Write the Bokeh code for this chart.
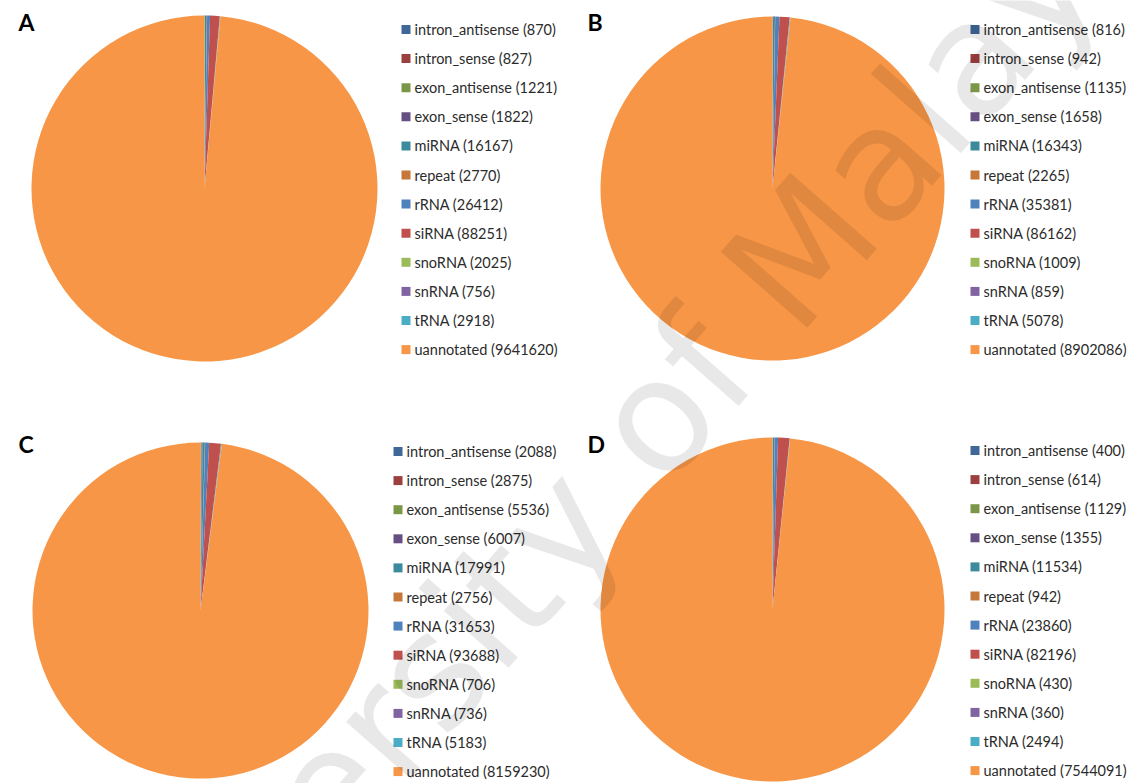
import numpy as np
from bokeh.plotting import figure
from bokeh.models import ColumnDataSource, Range1d
from bokeh.core.properties import value
from bokeh.embed import file_html
from bokeh.resources import INLINE

# Small RNA read counts per annotation class, four libraries
categories = ["intron_antisense", "intron_sense", "exon_antisense", "exon_sense",
              "miRNA", "repeat", "rRNA", "siRNA", "snoRNA", "snRNA", "tRNA", "uannotated"]

counts_A = [870, 827, 1221, 1822, 16167, 2770, 26412, 88251, 2025, 756, 2918, 9641620]
counts_B = [816, 942, 1135, 1658, 16343, 2265, 35381, 86162, 1009, 859, 5078, 8902086]
counts_C = [2088, 2875, 5536, 6007, 17991, 2756, 31653, 93688, 706, 736, 5183, 8159230]
counts_D = [400, 614, 1129, 1355, 11534, 942, 23860, 82196, 430, 360, 2494, 7544091]

panel_labels = ["A", "B", "C", "D"]
watermark = "University of Malaya"

slice_colors = ["#3f6797", "#9b403e", "#7c9647", "#665083", "#3c8a9e", "#c6783a",
                "#4f81bd", "#c0504d", "#9bbb59", "#8064a2", "#4bacc6", "#f79646"]

W, H = 1131, 783

# page layout in pixels from the top-left corner
layout = [
    dict(cx=204, cy=188, r=173, lx=401, ly=29, tx=18, ty=21),
    dict(cx=772, cy=188, r=172, lx=970, ly=29, tx=587, ty=21),
    dict(cx=200, cy=610, r=168, lx=393, ly=451, tx=18, ty=443),
    dict(cx=772, cy=609, r=172, lx=970, ly=450, tx=587, ty=443),
]
ROW_STEP = 29.1
SWATCH = 9

p = figure(width=W, height=H, x_range=Range1d(0, W), y_range=Range1d(0, H),
           output_backend="svg", toolbar_location=None, min_border=0,
           x_axis_type=None, y_axis_type=None)
p.grid.visible = False
p.outline_line_color = None
p.background_fill_color = "white"
p.border_fill_color = "white"

label_font = value("Lato")

for counts, label, lay in zip([counts_A, counts_B, counts_C, counts_D], panel_labels, layout):
    vals = np.array(counts, dtype=float)
    frac = vals / vals.sum()
    cum_end = np.cumsum(frac)
    cum_start = cum_end - frac
    # slices start at 12 o'clock and run clockwise
    start = np.pi / 2 - 2 * np.pi * cum_start
    end = np.pi / 2 - 2 * np.pi * cum_end
    src = ColumnDataSource(dict(start=start, end=end, color=slice_colors))
    p.wedge(x=lay["cx"], y=H - lay["cy"], radius=lay["r"], start_angle="start",
            end_angle="end", direction="clock", fill_color="color",
            line_color=None, source=src)

    # legend: swatch + "name (count)"
    n = len(categories)
    rows_y = [H - (lay["ly"] + i * ROW_STEP) for i in range(n)]
    texts = [f"{c} ({v})" for c, v in zip(categories, counts)]
    leg = ColumnDataSource(dict(
        sx=[lay["lx"] + SWATCH / 2] * n,
        tx=[lay["lx"] + SWATCH + 4] * n,
        y=rows_y, text=texts, color=slice_colors))
    p.rect(x="sx", y="y", width=SWATCH, height=SWATCH, fill_color="color",
           line_color=None, source=leg)
    p.text(x="tx", y="y", text="text", source=leg, text_font=label_font,
           text_font_size="14.5px", text_color="#2b2b2b",
           text_baseline="middle", text_align="left")

    p.text(x=[lay["tx"]], y=[H - lay["ty"]], text=[label], text_font=label_font,
           text_font_size="23px", text_font_style="bold", text_color="black",
           text_baseline="middle", text_align="left")

# faint diagonal watermark across the page
p.text(x=[595], y=[H - 485], text=[watermark], angle=0.85,
       text_font=value("DejaVu Sans"), text_font_size="158px",
       text_color="black", text_alpha=0.09,
       text_align="center", text_baseline="middle")

open("out.html", "w").write(file_html(p, INLINE))
